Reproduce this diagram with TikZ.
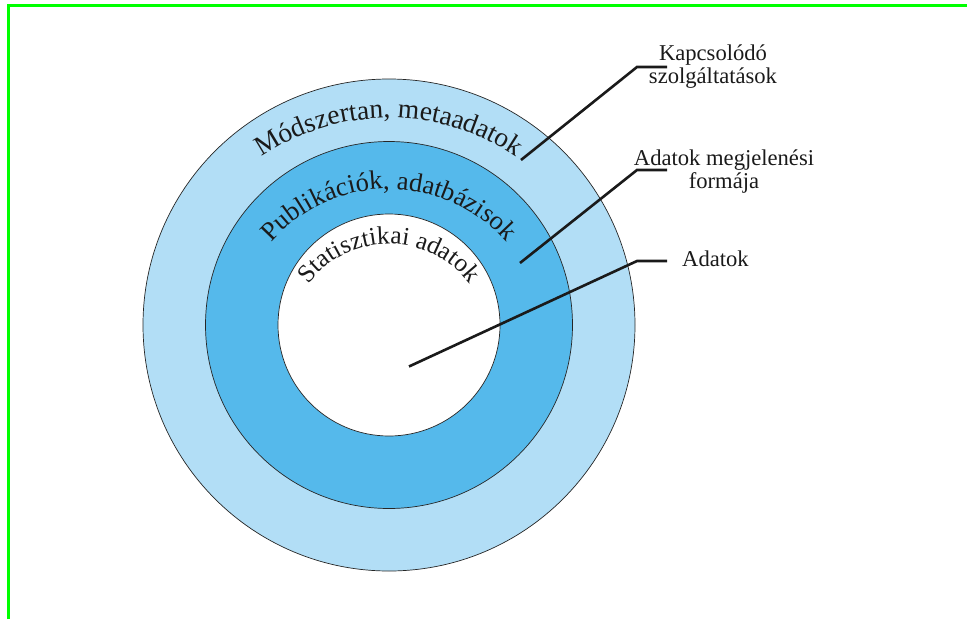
\documentclass[tikz,border=0pt]{standalone}
\usepackage{fontspec}
\setmainfont{Liberation Serif}
\usetikzlibrary{decorations.text}
\definecolor{ringlight}{HTML}{B2DEF6}
\definecolor{ringmid}{HTML}{55B9EB}
\definecolor{frameg}{HTML}{00FF00}
\definecolor{ink}{HTML}{1A1A1A}
\begin{document}
\begin{tikzpicture}[x=1pt,y=1pt,
  ring/.style={circle, draw=black!85, line width=0.7pt, inner sep=0pt},
  leader/.style={draw=ink, line width=2.6pt},
  lab/.style={font=\fontsize{22.6}{22.6}\selectfont, align=center, inner sep=0pt, text=ink},
  arctext/.style={decorate, decoration={text along path, text align=center, text={#1}}}]
\useasboundingbox (0,0) rectangle (967,-619);
\draw[frameg, line width=2.6pt] (8.2,-619) -- (8.2,-5.3) -- (967,-5.3);
% rings
\node[ring, fill=ringlight, minimum size=492pt] (outer) at (389,-325) {};
\node[ring, fill=ringmid, minimum size=367pt] (middle) at (389,-325) {};
\node[ring, fill=white, minimum size=222pt] (inner) at (389,-325) {};
% curved texts
\coordinate (tc) at (389,-345);
\path[arctext={|\fontsize{27.5}{30}\selectfont\color{ink}|Módszertan, metaadatok}]
  (tc) ++(160:227) arc[start angle=160, end angle=20, radius=227];
\path[arctext={|\fontsize{26.6}{30}\selectfont\color{ink}|Publikációk, adatbázisok}]
  (tc) ++(170:156) arc[start angle=170, end angle=10, radius=156];
\path[arctext={|\fontsize{25.4}{30}\selectfont\color{ink}|Statisztikai adatok}]
  (tc) ++(175:101) arc[start angle=175, end angle=5, radius=101];
% labels (anchor at the baseline of the last line)
\node[lab, anchor=base] (kap) at (713,-83.3) {Kapcsolódó\\szolgáltatások};
\node[lab, anchor=base] (meg) at (724,-188) {Adatok megjelenési\\formája};
\node[lab, anchor=base] (dat) at (715.5,-266) {Adatok};
% leaders
\coordinate (k1) at (667,-67);
\coordinate (k2) at (637,-67);
\coordinate (k3) at (521,-160);
\coordinate (m1) at (667,-170);
\coordinate (m2) at (637,-170);
\coordinate (m3) at (520,-263);
\coordinate (d1) at (667,-261);
\coordinate (d2) at (637,-261);
\coordinate (d3) at (409,-366.5);
\draw[leader] (k1) -- (k2) -- (k3);
\draw[leader] (m1) -- (m2) -- (m3);
\draw[leader] (d1) -- (d2) -- (d3);
\end{tikzpicture}
\end{document}
